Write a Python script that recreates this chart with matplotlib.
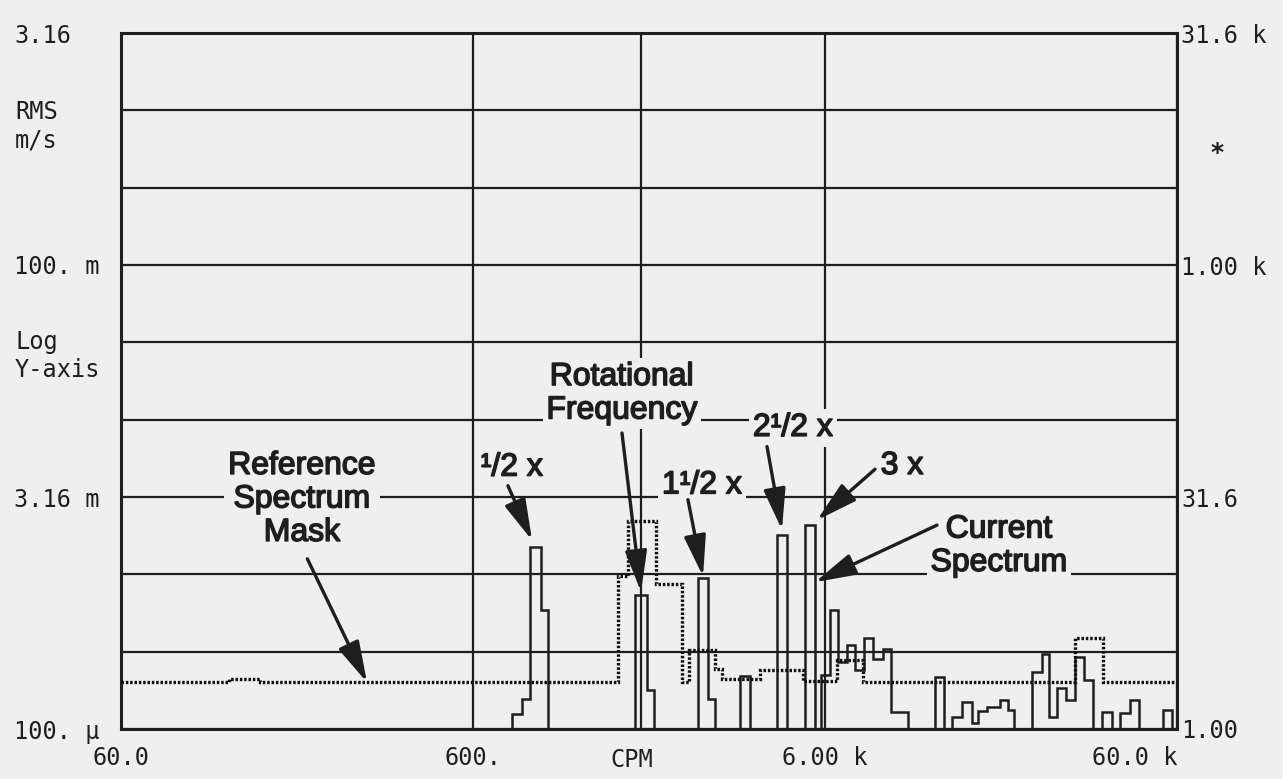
import matplotlib.pyplot as plt
import matplotlib.patheffects as pe
from matplotlib.ticker import NullLocator

# current spectrum: band edges (CPM) and RMS level of each band (m/s)
spec_edges = [60, 774, 827, 871, 936, 980, 1731, 1872, 1961, 2615, 2791, 2922,
              3441, 3673, 4383, 4679, 5266, 5620, 5845, 6199, 6534, 6927, 7302,
              7745, 8214, 8771, 9242, 10327, 12318, 13066, 13770, 14700, 15694,
              16325, 17312, 18860, 19867, 20663, 23236, 24813, 25973, 27372,
              29029, 30786, 32649, 34626, 36724, 39211, 41330, 44126, 46795,
              54750, 58068, 60000]
spec_levels = [1e-4, 1.25e-4, 1.56e-4, 1.5e-3, 5.9e-4,
               1e-4, 7.3e-4, 1.8e-4,
               1e-4, 9.4e-4, 1.56e-4,
               1e-4, 2.2e-4,
               1e-4, 1.8e-3,
               1e-4, 2.07e-3,
               1e-4, 2.25e-4, 5.9e-4, 2.7e-4, 3.5e-4, 2.4e-4, 3.85e-4, 2.85e-4,
               3.3e-4, 1.28e-4,
               1e-4, 2.17e-4,
               1e-4, 1.19e-4, 1.5e-4, 1.1e-4, 1.3e-4, 1.38e-4, 1.53e-4, 1.32e-4,
               1e-4, 2.35e-4, 3.07e-4, 1.2e-4, 1.85e-4, 1.55e-4, 2.9e-4, 2.06e-4,
               1e-4, 1.29e-4, 1e-4, 1.26e-4, 1.54e-4,
               1e-4, 1.33e-4, 1e-4]

# reference spectrum mask
mask_edges = [60, 122, 149, 1549, 1654, 1987, 2355, 2465, 2922, 3058, 3921,
              5196, 6490, 7693, 30786, 36970, 60000]
mask_levels = [2.0e-4, 2.1e-4, 2.0e-4, 9.8e-4, 2.2e-3, 8.6e-4, 2.0e-4, 3.25e-4,
               2.45e-4, 2.1e-4, 2.4e-4, 2.04e-4, 2.8e-4, 2.0e-4, 3.9e-4, 2.0e-4]

rot_freq = 1800

# axis ticks
y_grid = [1e-4, 3.16e-4, 1e-3, 3.16e-3, 1e-2, 3.16e-2, 0.1, 0.316, 1.0, 3.16]
y_labels = ['100. µ', '', '', '3.16 m', '', '', '100. m', '', '', '3.16']
r_ticks = [1, 31.6, 1000, 31623]
r_labels = ['1.00', '31.6', '1.00 k', '31.6 k']
x_ticks = [60, 600, 6000, 60000]
x_labels = ['60.0', '600.', '6.00 k', '60.0 k']

# callouts: text, text position, arrow tails and heads
callouts = [
    ('Reference\nSpectrum\nMask', (196, 3.05e-3), [((203, 1.26e-3), (300, 2.0e-4))]),
    ('¹/2 x', (774, 4.9e-3), [((754, 3.74e-3), (883, 1.66e-3))]),
    ('Rotational\nFrequency', (1590, 1.47e-2), [((1590, 8.2e-3), (1801, 7.7e-4))]),
    ('1¹/2 x', (2684, 3.76e-3), [((2448, 3.04e-3), (2702, 9.7e-4))]),
    ('2¹/2 x', (4868, 8.85e-3), [((4106, 6.7e-3), (4528, 1.94e-3))]),
    ('3 x', (9930, 5.02e-3), [((8322, 4.78e-3), (5694, 2.24e-3))]),
    ('Current\nSpectrum', (18730, 1.52e-3), [((12486, 2.08e-3), (5620, 8.9e-4))]),
]

bg = '#efefef'
ink = '#1e1e1e'
W, H = 1283, 779

fig = plt.figure(figsize=(W / 100, H / 100), dpi=100, facecolor=bg)
ax = fig.add_axes([121 / W, 1 - 729 / H, (1177 - 121) / W, (729 - 33) / H])
ax.set_facecolor(bg)
ax.set_xscale('log')
ax.set_yscale('log')
ax.set_xlim(60, 60000)
ax.set_ylim(1e-4, 10 ** 0.5)

ax.set_yticks(y_grid)
ax.set_yticklabels(y_labels, family='DejaVu Sans Mono', fontsize=17, color=ink)
ax.set_xticks(x_ticks)
ax.set_xticklabels(x_labels, family='DejaVu Sans Mono', fontsize=17, color=ink)
ax.xaxis.set_minor_locator(NullLocator())
ax.yaxis.set_minor_locator(NullLocator())
ax.tick_params(axis='y', length=0, pad=77)
ax.tick_params(axis='x', length=0, pad=12)
for lab in ax.get_yticklabels():
    lab.set_ha('left')
ax.get_xticklabels()[-1].set_ha('right')

ax.grid(True, color=ink, lw=1.6)
ax.axvline(rot_freq, color=ink, lw=1.6, zorder=1)
for s in ax.spines.values():
    s.set_color(ink)
    s.set_linewidth(2.2)

# spectra
ax.stairs(spec_levels, spec_edges, baseline=None, color=ink, lw=1.8, zorder=3, clip_on=False)
ax.stairs(mask_levels, mask_edges, baseline=None, color='#111111', lw=2.4,
          linestyle=(0, (0.75, 0.55)), zorder=3)

# right-hand scale
ax2 = ax.twinx()
ax2.set_yscale('log')
ax2.set_ylim(1, 10 ** 4.5)
ax2.set_yticks(r_ticks)
ax2.set_yticklabels(r_labels, family='DejaVu Sans Mono', fontsize=17, color=ink)
ax2.yaxis.set_minor_locator(NullLocator())
ax2.tick_params(axis='y', length=0, pad=3)
for s in ax2.spines.values():
    s.set_visible(False)

# callouts
fx = [pe.withStroke(linewidth=1.1, foreground=ink)]
for txt, pos, arrows in callouts:
    ax.text(pos[0], pos[1], txt, ha='center', va='center', family='Liberation Sans',
            fontsize=23, color=ink, linespacing=1.15, zorder=5, path_effects=fx,
            bbox=dict(boxstyle='square,pad=0.12', fc=bg, ec='none'))
    for tail, head in arrows:
        ax.annotate('', xy=head, xytext=tail, zorder=6,
                    arrowprops=dict(arrowstyle='-|>,head_length=0.9,head_width=0.24',
                                    mutation_scale=28, color=ink, lw=2.4,
                                    shrinkA=0, shrinkB=0))

ax.text(1700, -0.045, 'CPM', transform=ax.get_xaxis_transform(), ha='center',
        va='center', family='DejaVu Sans Mono', fontsize=17, color=ink)
fig.text(15 / W, 1 - 126 / H, 'RMS\nm/s', ha='left', va='center',
         family='DejaVu Sans Mono', fontsize=17, color=ink, linespacing=1.25)
fig.text(15 / W, 1 - 356 / H, 'Log\nY-axis', ha='left', va='center',
         family='DejaVu Sans Mono', fontsize=17, color=ink, linespacing=1.25)
fig.text(1217 / W, 1 - 153 / H, '*', ha='center', va='center',
         family='DejaVu Sans', fontsize=18, weight='bold', color=ink)

fig.savefig('out.png', dpi=100, facecolor=bg)
